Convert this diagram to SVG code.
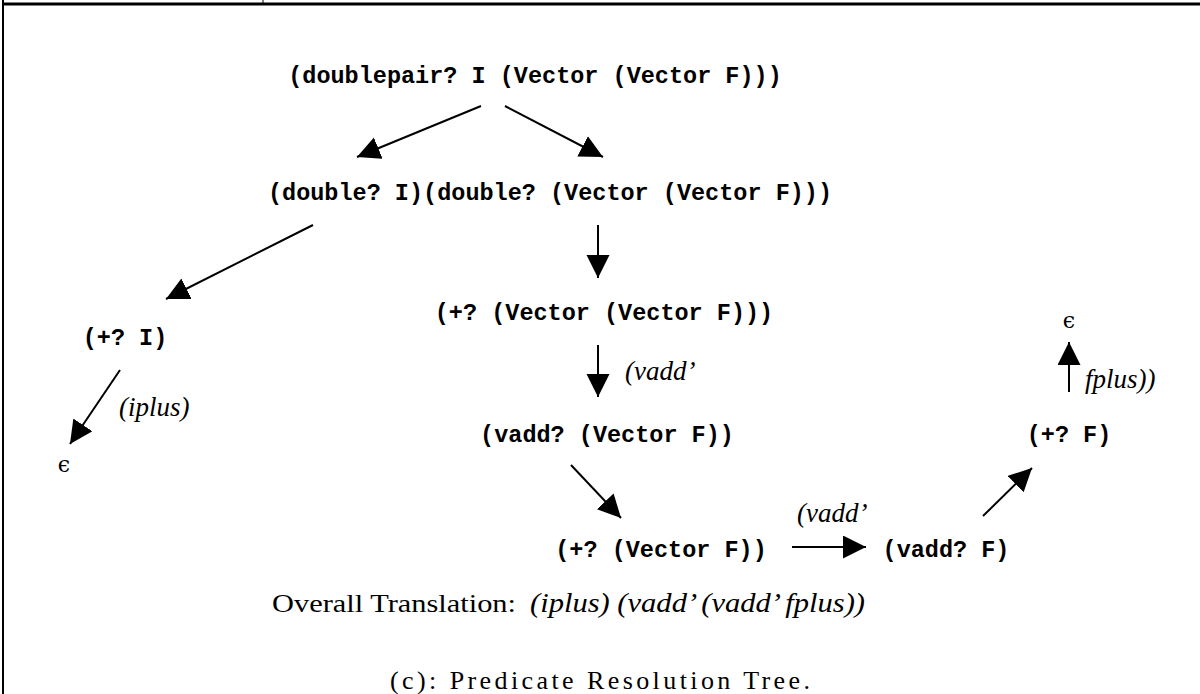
<svg xmlns="http://www.w3.org/2000/svg" width="1200" height="694" viewBox="0 0 1200 694">
<style>
.n{font-family:"Liberation Mono","DejaVu Sans Mono",monospace;font-weight:bold;font-size:23.5px;fill:#000;text-anchor:middle}
.l{font-family:"Liberation Serif","DejaVu Serif",serif;font-style:italic;font-size:27px;fill:#000}
.r{font-family:"Liberation Serif","DejaVu Serif",serif;font-size:26px;fill:#000}
.e{font-family:"DejaVu Serif",serif;font-size:22px;fill:#000;text-anchor:middle}
.c line{stroke:#000;stroke-width:2;marker-end:url(#ah)}
</style>
<defs>
<marker id="ah" markerUnits="userSpaceOnUse" markerWidth="26" markerHeight="24" refX="23" refY="11.5" orient="auto">
<path d="M0,0 L23,11.5 L0,23 Z" fill="#000"/>
</marker>
</defs>
<rect width="1200" height="694" fill="#fff"/>
<g id="frame">
<line x1="3" y1="4" x2="1200" y2="4" stroke="#000" stroke-width="3"/>
<line x1="3" y1="0" x2="3" y2="694" stroke="#000" stroke-width="2"/>
<line x1="263" y1="0" x2="263" y2="4" stroke="#000" stroke-width="1"/>
</g>
<g class="c" id="connectors">
<line x1="481" y1="106" x2="357" y2="157"/>
<line x1="505" y1="106" x2="603" y2="157"/>
<line x1="313" y1="225" x2="166" y2="299"/>
<line x1="598" y1="225" x2="598" y2="278"/>
<line x1="598" y1="345" x2="598" y2="397"/>
<line x1="571" y1="465" x2="621" y2="518"/>
<line x1="120" y1="370" x2="70" y2="444"/>
<line x1="792" y1="547" x2="866" y2="547"/>
<line x1="983" y1="516" x2="1032" y2="468"/>
<line x1="1069" y1="392" x2="1069" y2="342"/>
</g>
<g id="n1"><text class="n" x="535" y="83">(doublepair? I (Vector (Vector F)))</text></g>
<g id="n2"><text class="n" x="550" y="200">(double? I)(double? (Vector (Vector F)))</text></g>
<g id="n3"><text class="n" x="125" y="345">(+? I)</text></g>
<g id="n4"><text class="n" x="604" y="320">(+? (Vector (Vector F)))</text></g>
<g id="n5"><text class="n" x="607" y="442">(vadd? (Vector F))</text></g>
<g id="n6"><text class="n" x="661" y="557">(+? (Vector F))</text></g>
<g id="n7"><text class="n" x="946" y="557">(vadd? F)</text></g>
<g id="n8"><text class="n" x="1069" y="442">(+? F)</text></g>
<g id="n9"><text class="e" x="1069" y="328">ϵ</text></g>
<g id="n10"><text class="e" x="64" y="472">ϵ</text></g>
<g id="labels">
<text class="l" x="119" y="416">(iplus)</text>
<text class="l" x="625" y="380">(vadd’</text>
<text class="l" x="797" y="522">(vadd’</text>
<text class="l" x="1085" y="388">fplus))</text>
<text class="r" x="272" y="612" textLength="244" lengthAdjust="spacingAndGlyphs">Overall Translation:</text>
<text class="l" x="530" y="612" textLength="335" lengthAdjust="spacingAndGlyphs">(iplus) (vadd’ (vadd’ fplus))</text>
<text class="r" x="390" y="689" font-size="27" textLength="420" lengthAdjust="spacing">(c): Predicate Resolution Tree.</text>
</g>
</svg>
